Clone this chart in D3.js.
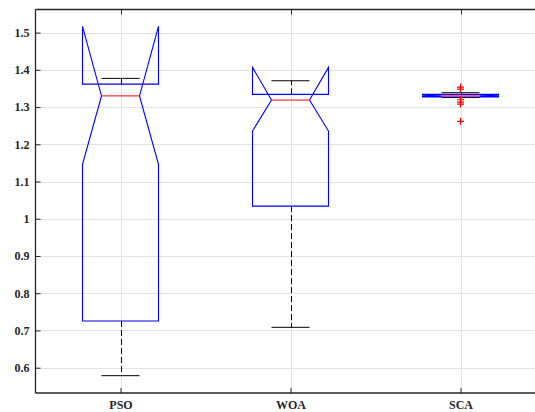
<!DOCTYPE html>
<html>
<head>
<meta charset="utf-8">
<script src="https://cdn.jsdelivr.net/npm/d3@7"></script>
<style>
  body { margin: 0; background: #fff; }
  text { font-family: "Liberation Serif", serif; fill: #262626; }
</style>
</head>
<body>
<div id="chart"></div>
<script>
// values
const categories = ["PSO", "WOA", "SCA"];
const q1 = [0.7253, 1.034, 1.327];
const median = [1.330, 1.3187, 1.330];
const q3 = [1.3617, 1.334, 1.334];
const whiskerLo = [0.5785, 0.7084, 1.3255];
const whiskerHi = [1.377, 1.3706, 1.3385];
const notchLo = [1.146, 1.2355, 1.3285];
const notchHi = [1.5167, 1.4065, 1.3315];
const outliers = [[], [], [1.3537, 1.3483, 1.3196, 1.3134, 1.308, 1.2616]];
const yTicks = [0.6, 0.7, 0.8, 0.9, 1, 1.1, 1.2, 1.3, 1.4, 1.5];

function main() {
    const width = 535, height = 412;
    const svg = d3.select("#chart").append("svg")
        .attr("width", width)
        .attr("height", height);

    const x = d3.scaleLinear().domain([0.5, 3.5]).range([35.5, 545.5]);
    const y = d3.scaleLinear().domain([0.532, 1.562]).range([393, 9.5]);
    const boxHalf = 38, notchHalf = 19;

    // grid
    const grid = svg.append("g").attr("stroke", "#e3e3e3").attr("stroke-width", 1);
    grid.selectAll(".gy").data(yTicks).join("line")
        .attr("x1", x(0.5)).attr("x2", x(3.5))
        .attr("y1", d => Math.round(y(d)) + 0.5).attr("y2", d => Math.round(y(d)) + 0.5);
    grid.selectAll(".gx").data(categories).join("line")
        .attr("x1", (d, i) => Math.round(x(i + 1)) + 0.5).attr("x2", (d, i) => Math.round(x(i + 1)) + 0.5)
        .attr("y1", y.range()[0]).attr("y2", y.range()[1]);

    const data = categories.map((c, i) => ({
        name: c, pos: i + 1, q1: q1[i], med: median[i], q3: q3[i],
        lo: whiskerLo[i], hi: whiskerHi[i], nlo: notchLo[i], nhi: notchHi[i], out: outliers[i]
    }));

    const g = svg.append("g");
    const boxes = g.selectAll(".box").data(data).join("g");

    // whiskers
    boxes.append("line")
        .attr("x1", d => Math.round(x(d.pos)) + 0.5).attr("x2", d => Math.round(x(d.pos)) + 0.5)
        .attr("y1", d => y(d.q1)).attr("y2", d => y(d.lo))
        .attr("stroke", "#000").attr("stroke-dasharray", "6,3");
    boxes.append("line")
        .attr("x1", d => Math.round(x(d.pos)) + 0.5).attr("x2", d => Math.round(x(d.pos)) + 0.5)
        .attr("y1", d => y(d.q3)).attr("y2", d => y(d.hi))
        .attr("stroke", "#000").attr("stroke-dasharray", "6,3");
    ["lo", "hi"].forEach(k => {
        boxes.append("line")
            .attr("x1", d => x(d.pos) - notchHalf).attr("x2", d => x(d.pos) + notchHalf)
            .attr("y1", d => y(d[k])).attr("y2", d => y(d[k]))
            .attr("stroke", "#000");
    });

    // notched box
    boxes.append("path")
        .attr("fill", "none").attr("stroke", "#0000ff").attr("stroke-width", 1.1)
        .attr("d", d => {
            const c = x(d.pos), L = c - boxHalf, R = c + boxHalf;
            const pts = [[L, d.q1], [L, d.nlo], [c - notchHalf, d.med], [L, d.nhi], [L, d.q3],
                         [R, d.q3], [R, d.nhi], [c + notchHalf, d.med], [R, d.nlo], [R, d.q1]];
            return "M" + pts.map(p => p[0] + "," + y(p[1])).join("L") + "Z";
        });

    // median
    boxes.append("line")
        .attr("x1", d => x(d.pos) - notchHalf).attr("x2", d => x(d.pos) + notchHalf)
        .attr("y1", d => y(d.med)).attr("y2", d => y(d.med))
        .attr("stroke", "#ff0000");

    // outliers
    boxes.each(function (d) {
        d3.select(this).selectAll(".out").data(d.out).join("path")
            .attr("d", v => {
                const cx = x(d.pos), cy = y(v);
                return `M${cx - 3.5},${cy}H${cx + 3.5}M${cx},${cy - 3.5}V${cy + 3.5}`;
            })
            .attr("stroke", "#ff0000").attr("stroke-width", 1.2).attr("fill", "none");
    });

    // axes frame
    const frame = svg.append("g").attr("stroke", "#262626").attr("stroke-width", 1.3);
    frame.append("line").attr("x1", 35.5).attr("x2", width).attr("y1", 9.5).attr("y2", 9.5);
    frame.append("line").attr("x1", 35.5).attr("x2", width).attr("y1", 393).attr("y2", 393);
    frame.append("line").attr("x1", 35.5).attr("x2", 35.5).attr("y1", 9.5).attr("y2", 393);

    // y axis
    const yAxis = d3.axisLeft(y).tickValues(yTicks).tickSize(-5).tickPadding(6).tickFormat(d3.format("~g"));
    const ya = svg.append("g").attr("transform", "translate(35.5,0)").call(yAxis);
    ya.select(".domain").remove();
    ya.selectAll("line").attr("stroke", "#262626");
    ya.selectAll("text").style("font-size", "12px").style("font-weight", "bold").attr("fill", "#262626");

    // x axis
    const xAxis = d3.axisBottom(x).tickValues([1, 2, 3]).tickSize(-5).tickPadding(7)
        .tickFormat(d => categories[d - 1]);
    const xa = svg.append("g").attr("transform", "translate(0,393)").call(xAxis);
    xa.select(".domain").remove();
    xa.selectAll("line").attr("stroke", "#262626");
    xa.selectAll("text").style("font-size", "12px").style("font-weight", "bold").attr("fill", "#262626");

    // top ticks
    svg.append("g").selectAll("line").data([1, 2, 3]).join("line")
        .attr("x1", d => Math.round(x(d)) + 0.5).attr("x2", d => Math.round(x(d)) + 0.5)
        .attr("y1", 9.5).attr("y2", 14.5).attr("stroke", "#262626");
}
main();
</script>
</body>
</html>
